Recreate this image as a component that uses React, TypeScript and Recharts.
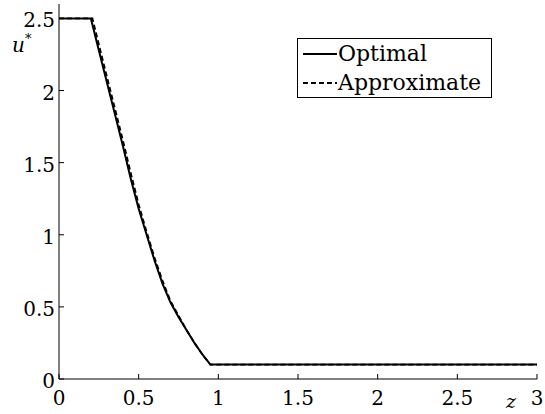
import React from 'react'
import { LineChart, Line, XAxis, YAxis, Legend } from 'recharts'

const zOptimal = [0, 0.2, 0.25, 0.3, 0.35, 0.4, 0.45, 0.5, 0.55, 0.6, 0.65, 0.7, 0.75, 0.8, 0.85, 0.9, 0.95, 3]
const uOptimal = [2.5, 2.5, 2.28, 2.06, 1.84, 1.62, 1.39, 1.18, 1.0, 0.82, 0.66, 0.53, 0.43, 0.34, 0.25, 0.17, 0.1, 0.1]

const zApprox = [0, 0.21, 0.25, 0.3, 0.35, 0.4, 0.45, 0.5, 0.55, 0.6, 0.65, 0.7, 0.75, 0.8, 0.85, 0.9, 0.95, 3]
const uApprox = [2.5, 2.5, 2.32, 2.1, 1.88, 1.66, 1.43, 1.21, 1.02, 0.84, 0.68, 0.54, 0.44, 0.34, 0.25, 0.17, 0.1, 0.1]

const xTicks = [0, 0.5, 1, 1.5, 2, 2.5, 3]
const yTicks = [0, 0.5, 1, 1.5, 2, 2.5]

const optimalData = zOptimal.map((z, i) => ({ z, u: uOptimal[i] }))
const approxData = zApprox.map((z, i) => ({ z, u: uApprox[i] }))

const FONT = '"DejaVu Serif", serif'

const BottomTick = ({ x, y, payload }: any) => (
  <g>
    <line x1={x} y1={y} x2={x} y2={y - 5} stroke="#000" />
    <text x={x} y={y + 26} textAnchor="middle" fontFamily={FONT} fontSize={20} fill="#000">
      {String(payload.value)}
    </text>
  </g>
)

const TopTick = ({ x, y }: any) => <line x1={x} y1={y} x2={x} y2={y + 5} stroke="#000" />

const LeftTick = ({ x, y, payload }: any) => (
  <g>
    <line x1={x} y1={y} x2={x + 5} y2={y} stroke="#000" />
    <text x={x - 4} y={y + 9} textAnchor="end" fontFamily={FONT} fontSize={20} fill="#000">
      {String(payload.value)}
    </text>
  </g>
)

const RightTick = ({ x, y }: any) => <line x1={x} y1={y} x2={x - 5} y2={y} stroke="#000" />

const ULabel = () => (
  <text x={12} y={52} fontFamily={FONT} fontSize={20} fontStyle="italic" fill="#000">
    u
    <tspan fontSize={13} dy={-9} fontStyle="normal">*</tspan>
  </text>
)

const ZLabel = () => (
  <text x={506} y={408} fontFamily={FONT} fontSize={19} fontStyle="italic" fill="#000">
    z
  </text>
)

const LegendBox = () => {
  const rows = [
    { name: 'Optimal', dash: undefined },
    { name: 'Approximate', dash: '5 3' },
  ]
  return (
    <div
      style={{
        border: '1px solid #000',
        width: 193,
        height: 57,
        background: '#fff',
        fontFamily: FONT,
        fontSize: 22,
        paddingTop: 1,
        boxSizing: 'content-box',
        overflow: 'hidden',
      }}
    >
      {rows.map(r => (
        <div key={r.name} style={{ display: 'flex', alignItems: 'center', height: 28.5, lineHeight: '28px', whiteSpace: 'nowrap' }}>
          <svg width={40} height={10} style={{ display: 'block', flexShrink: 0 }}>
            <line x1={5} y1={5} x2={39} y2={5} stroke="#000" strokeWidth={1.8} strokeDasharray={r.dash} />
          </svg>
          <span style={{ color: '#000' }}>{r.name}</span>
        </div>
      ))}
    </div>
  )
}

export default function App() {
  return (
    <div style={{ position: 'absolute', left: 0, top: 0, background: '#fff' }}>
      <LineChart width={545} height={414} margin={{ top: 4, right: 8, left: 0, bottom: 0 }}>
        <XAxis
          dataKey="z"
          type="number"
          domain={[0, 3]}
          ticks={xTicks}
          interval={0}
          height={35}
          tickSize={0}
          tickMargin={0}
          tickLine={false}
          axisLine={{ stroke: '#000' }}
          tick={<BottomTick />}
          label={<ZLabel />}
          allowDuplicatedCategory={false}
        />
        <XAxis
          xAxisId="top"
          orientation="top"
          type="number"
          domain={[0, 3]}
          ticks={xTicks}
          interval={0}
          height={0}
          tickSize={0}
          tickMargin={0}
          tickLine={false}
          axisLine={{ stroke: '#000' }}
          tick={<TopTick />}
        />
        <YAxis
          type="number"
          domain={[0, 2.6]}
          ticks={yTicks}
          interval={0}
          width={59}
          tickSize={0}
          tickMargin={0}
          tickLine={false}
          axisLine={{ stroke: '#000' }}
          tick={<LeftTick />}
          label={<ULabel />}
        />
        <YAxis
          yAxisId="right"
          orientation="right"
          type="number"
          domain={[0, 2.6]}
          ticks={yTicks}
          interval={0}
          width={0}
          tickSize={0}
          tickMargin={0}
          tickLine={false}
          axisLine={{ stroke: '#000' }}
          tick={<RightTick />}
        />
        <Legend
          layout="vertical"
          align="center"
          verticalAlign="middle"
          wrapperStyle={{ left: 297, top: 38, width: 195 }}
          content={<LegendBox />}
        />
        <Line
          data={optimalData}
          dataKey="u"
          type="linear"
          stroke="#000"
          strokeWidth={2}
          dot={false}
          isAnimationActive={false}
          name="Optimal"
        />
        <Line
          data={approxData}
          dataKey="u"
          type="linear"
          stroke="#000"
          strokeWidth={1.8}
          strokeDasharray="5 3"
          dot={false}
          isAnimationActive={false}
          name="Approximate"
        />
      </LineChart>
    </div>
  )
}
